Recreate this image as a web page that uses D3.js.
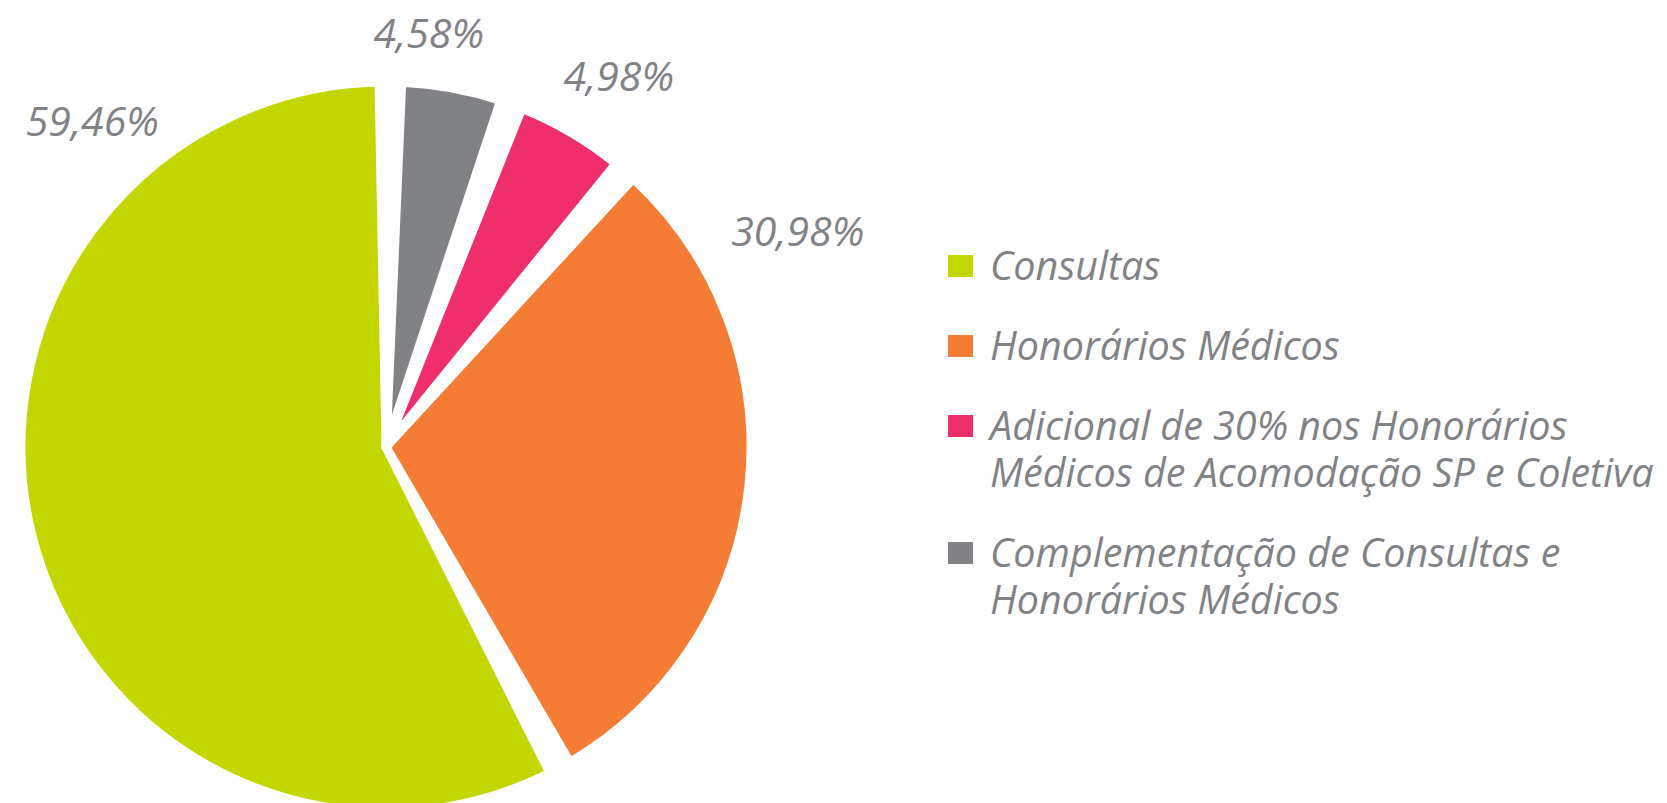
<!DOCTYPE html>
<html>
<head>
<meta charset="utf-8">
<script src="https://cdn.jsdelivr.net/npm/d3@7"></script>
<style>
  body { margin: 0; background: #fff; }
  text { font-family: "Open Sans", sans-serif; font-style: italic; fill: #818286; }
</style>
</head>
<body>
<div id="chart"></div>
<script>
let width = 1667;
let height = 803;

// data, in legend order
let categories = ["Consultas", "Honorários Médicos", "Adicional de 30% nos Honorários Médicos de Acomodação SP e Coletiva", "Complementação de Consultas e Honorários Médicos"];
let values = [59.46, 30.98, 4.98, 4.58];
let valueLabels = ["59,46%", "30,98%", "4,98%", "4,58%"];
let legendLines = [
  ["Consultas"],
  ["Honorários Médicos"],
  ["Adicional de 30% nos Honorários", "Médicos de Acomodação SP e Coletiva"],
  ["Complementação de Consultas e", "Honorários Médicos"]
];
let colors = ["#c4d600", "#f47c34", "#ef2f6c", "#818286"];

// where the percent labels sit: angle (deg, clockwise from 12h) and distance from centre
let labelAngle = [-42, 62.3, 32.1, 5.9];
let labelDist = [439, 465, 438, 416];

let cx = 386, cy = 447, radius = 365;
let start = 0.012;

let svg = d3.select("#chart")
  .append("svg")
  .attr("width", width)
  .attr("height", height);

let color = d3.scaleOrdinal().domain(categories).range(colors);

let pie = d3.pie()
  .sort(null)
  .value(function(d) { return d.value; })
  .startAngle(start)
  .endAngle(start - 2 * Math.PI)
  .padAngle(0.062);

let arc = d3.arc()
  .innerRadius(0)
  .outerRadius(radius);

let rows = categories.map(function(c, i) {
  return { name: c, value: values[i], label: valueLabels[i] };
});

let g = svg.append("g")
  .attr("transform", "translate(" + cx + "," + cy + ")");

g.selectAll("path")
  .data(pie(rows))
  .enter()
  .append("path")
  .attr("d", arc)
  .attr("fill", function(d) { return color(d.data.name); })
  .attr("stroke", "#fff")
  .attr("stroke-width", 9)
  .attr("stroke-linejoin", "round");

// percent labels
let fs = 41;
g.selectAll("text.pct")
  .data(rows)
  .enter()
  .append("text")
  .attr("class", "pct")
  .attr("text-anchor", "middle")
  .attr("font-size", fs)
  .attr("x", function(d, i) { return d3.pointRadial(labelAngle[i] * Math.PI / 180, labelDist[i])[0]; })
  .attr("y", function(d, i) { return d3.pointRadial(labelAngle[i] * Math.PI / 180, labelDist[i])[1] + fs * 0.36; })
  .text(function(d) { return d.label; });

// legend
let legX = 948, legY = 280, lineH = 47, itemGap = 80;
let legend = svg.append("g");
let y = legY;
legendLines.forEach(function(lines, i) {
  let item = legend.append("g");
  item.append("rect")
    .attr("x", legX)
    .attr("y", y - 25)
    .attr("width", 25)
    .attr("height", 22)
    .attr("fill", color(categories[i]));
  lines.forEach(function(line, j) {
    item.append("text")
      .attr("x", legX + 42)
      .attr("y", y + j * lineH)
      .attr("font-size", 39.5)
      .text(line);
  });
  y += (lines.length - 1) * lineH + itemGap;
});
</script>
</body>
</html>
